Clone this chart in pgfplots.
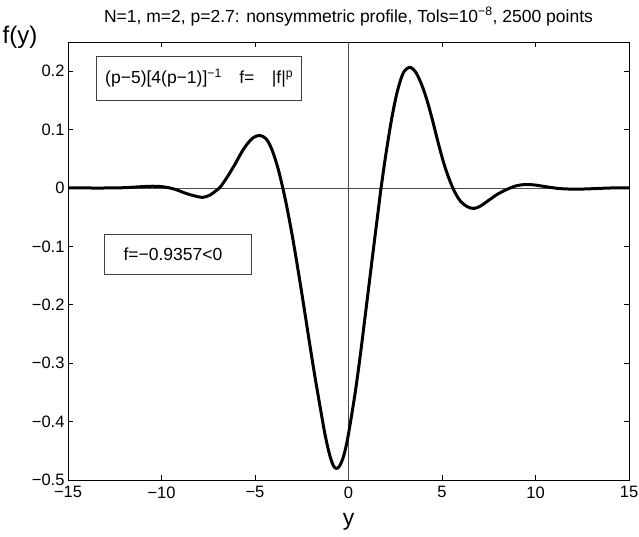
\documentclass[border=0pt]{standalone}
\usepackage{fontspec}
\setmainfont{Liberation Sans}
\usepackage{pgfplots}
\pgfplotsset{compat=1.18}
\begin{document}
\begin{tikzpicture}
\useasboundingbox (0,0) rectangle (639pt,537pt);
\begin{axis}[
  at={(68pt,57pt)}, anchor=south west,
  scale only axis, width=561pt, height=438pt,
  xmin=-15, xmax=15, ymin=-0.5, ymax=0.25,
  xtick={-15,-10,-5,0,5,10,15},
  xticklabels={−15,−10,−5,0,5,10,15},
  ytick={-0.5,-0.4,-0.3,-0.2,-0.1,0,0.1,0.2},
  yticklabels={−0.5,−0.4,−0.3,−0.2,−0.1,0,0.1,0.2},
  tick pos=both, tick align=inside, major tick length=5pt,
  tick style={black, line width=0.6pt},
  axis line style={black, line width=0.8pt},
  ticklabel style={font=\fontsize{16.5}{18}\selectfont},
  xticklabel style={yshift=-3pt},
  title={N=1, m=2, p=2.7: nonsymmetric profile, Tols=10\textsuperscript{−8}, 2500 points},
  title style={font=\fontsize{17.5}{19}\selectfont, at={(0.5,1)}, anchor=south, yshift=10pt, inner sep=0pt},
  xlabel={y},
  xlabel style={font=\fontsize{23}{26}\selectfont, at={(axis description cs:0.5,-0.096)}, anchor=center},
  ylabel={f(y)},
  ylabel style={rotate=-90, font=\fontsize{24}{26}\selectfont, at={(axis description cs:-0.0856,1.011)}, anchor=center},
  clip=true,
]
\addplot[black!70, line width=0.6pt, forget plot] coordinates {(-15,0) (15,0)};
\addplot[black!70, line width=0.6pt, forget plot] coordinates {(0,-0.5) (0,0.25)};
\addplot[black, line width=3pt, smooth, tension=0.55] coordinates {
(-15,0) (-14,0) (-13,0) (-12,0.0005) (-11.2,0.002) (-10.5,0.003) (-9.9,0.002)
(-9.3,-0.002) (-8.8,-0.008) (-8.3,-0.013) (-7.8,-0.016) (-7.4,-0.012) (-7.1,-0.005)
(-6.85,0.002) (-6.5,0.018) (-6.1,0.039) (-5.7,0.062) (-5.4,0.076) (-5.1,0.086)
(-4.75,0.090) (-4.4,0.084) (-4.1,0.066) (-3.8,0.037) (-3.55,0.005)
(-3.3,-0.032) (-3.0,-0.083) (-2.7,-0.140) (-2.4,-0.200) (-2.1,-0.262)
(-1.8,-0.322) (-1.5,-0.378) (-1.25,-0.423) (-1.0,-0.458) (-0.8,-0.476)
(-0.65,-0.480) (-0.5,-0.477) (-0.3,-0.463) (-0.1,-0.438) (0.1,-0.402)
(0.35,-0.352) (0.6,-0.294) (0.85,-0.230) (1.1,-0.165) (1.35,-0.100)
(1.6,-0.036) (1.75,0.002) (2.0,0.058) (2.3,0.117) (2.6,0.164) (2.9,0.195)
(3.15,0.205) (3.35,0.206) (3.6,0.198) (3.9,0.178) (4.2,0.150) (4.5,0.115)
(4.8,0.077) (5.1,0.042) (5.4,0.014) (5.7,-0.008) (6.0,-0.023) (6.35,-0.032)
(6.7,-0.035) (7.05,-0.031) (7.5,-0.021) (8.0,-0.010) (8.5,-0.002) (9.0,0.004)
(9.5,0.006) (10.0,0.005) (10.6,0.002) (11.3,-0.001) (12.2,-0.002) (13.2,-0.001)
(14,0) (15,0)
};
\node[draw=black!75, line width=0.6pt, minimum width=205pt, minimum height=44.7pt, inner sep=0pt,
  font=\fontsize{17.5}{19}\selectfont, fill=white]
  at (rel axis cs:0.2339,0.9169) {(p−5)[4(p−1)]\textsuperscript{−1}\quad f=\quad |f|\textsuperscript{p}};
\node[draw=black!75, line width=0.6pt, minimum height=40pt, inner xsep=19pt, text width=108.7pt,
  align=left, anchor=west, font=\fontsize{17.5}{19}\selectfont, fill=white]
  at (rel axis cs:0.0647,0.5153) {f=−0.9357<0};
\end{axis}
\end{tikzpicture}
\end{document}
